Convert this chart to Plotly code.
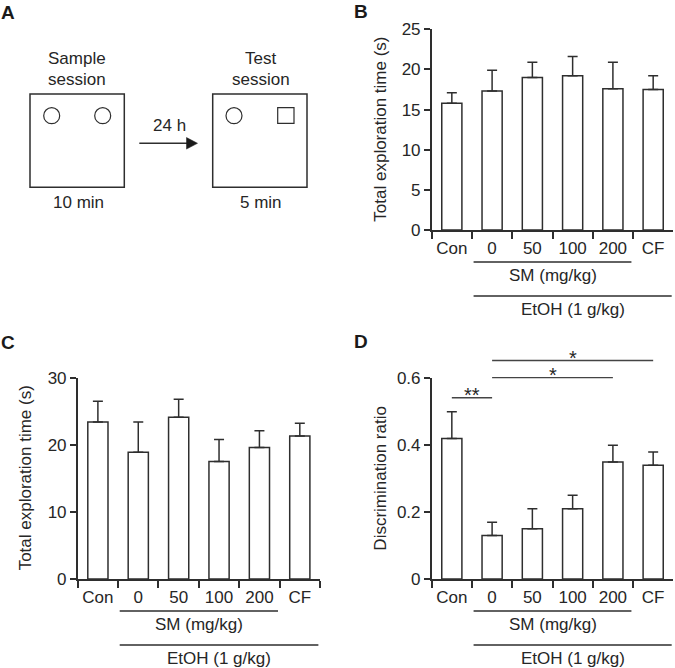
import plotly.graph_objects as go

W, H = 675, 668

# ---------------- data ----------------
categories = ["Con", "0", "50", "100", "200", "CF"]
b_mean = [15.8, 17.3, 19.0, 19.2, 17.6, 17.5]
b_sem = [1.3, 2.6, 1.9, 2.4, 3.3, 1.7]
c_mean = [23.4, 18.9, 24.1, 17.5, 19.6, 21.3]
c_sem = [3.1, 4.5, 2.7, 3.3, 2.5, 1.9]
d_mean = [0.42, 0.13, 0.15, 0.21, 0.35, 0.34]
d_sem = [0.08, 0.04, 0.06, 0.04, 0.05, 0.04]
b_ticks = [0, 5, 10, 15, 20, 25]
c_ticks = [0, 10, 20, 30]
d_ticks = [0, 0.2, 0.4, 0.6]
d_tick_text = ["0", "0.2", "0.4", "0.6"]
sig_pairs = [("Con", "0", 0.542, "**"), ("0", "200", 0.602, "*"), ("0", "CF", 0.653, "*")]
group1_label = "SM (mg/kg)"
group2_label = "EtOH (1 g/kg)"
ytitle_bc = "Total exploration time (s)"
ytitle_d = "Discrimination ratio"

FONT = "Liberation Sans, Arial, sans-serif"
TXT = "#262626"
LINE = "#2e2e2e"
FS = 17


def px(x):
    return x / W


def py(y):
    return 1 - y / H


fig = go.Figure()
shapes = []
annotations = []

panels = [
    ("B", "x", "y", (431.7, 673.3), (29.3, 230.0), b_mean, b_sem, [0, 25], b_ticks, None, ytitle_bc, 381),
    ("C", "x2", "y2", (77.7, 320.0), (377.7, 579.0), c_mean, c_sem, [0, 30], c_ticks, None, ytitle_bc, 25),
    ("D", "x3", "y3", (431.7, 673.3), (378.3, 579.0), d_mean, d_sem, [0, 0.6], d_ticks, d_tick_text, ytitle_d, 381),
]

layout_axes = {}
for name, xa, ya, xr, yr, mean, sem, yrange, yticks, yticktext, ytitle, tx in panels:
    fig.add_trace(go.Bar(
        x=categories, y=mean, xaxis=xa, yaxis=ya, width=0.5,
        marker=dict(color="white", line=dict(color=LINE, width=1.5)),
        error_y=dict(type="data", array=sem, arrayminus=[0] * len(sem), symmetric=False,
                     color=LINE, thickness=1.5, width=5),
        showlegend=False, hoverinfo="skip",
    ))
    xkey = "xaxis" + xa[1:]
    ykey = "yaxis" + ya[1:]
    layout_axes[xkey] = dict(
        domain=[px(xr[0]), px(xr[1])], anchor=ya, type="category",
        range=[-0.5, len(categories) - 0.5], tickson="boundaries", tickangle=0,
        ticks="outside", ticklen=7, tickwidth=1.5, tickcolor=LINE, ticklabelstandoff=2,
        showline=True, linecolor=LINE, linewidth=1.5, showgrid=False, zeroline=False,
        tickfont=dict(family=FONT, size=FS, color=TXT), fixedrange=True, automargin=False,
    )
    layout_axes[ykey] = dict(
        domain=[py(yr[1]), py(yr[0])], anchor=xa, range=yrange,
        tickvals=yticks, ticktext=yticktext if yticktext else [str(t) for t in yticks],
        ticks="outside", ticklen=6, tickwidth=1.5, tickcolor=LINE,
        showline=True, linecolor=LINE, linewidth=1.5, showgrid=False, zeroline=False,
        tickfont=dict(family=FONT, size=FS, color=TXT), fixedrange=True, automargin=False,
    )
    n = len(categories)

    def frac(b):
        return (b + 0.5) / n

    base = yr[1]
    for (b0, b1, dy_line, dy_text, label) in [
        (0.54, 4.46, 32, 45.0, group1_label),
        (0.54, 5.46, 66, 79.3, group2_label),
    ]:
        shapes.append(dict(type="line", xref=xa + " domain", yref="paper",
                           x0=frac(b0), x1=frac(b1), y0=py(base + dy_line), y1=py(base + dy_line),
                           line=dict(color=LINE, width=1.3)))
        annotations.append(dict(xref=xa + " domain", yref="paper",
                                x=(frac(b0) + frac(b1)) / 2, y=py(base + dy_text),
                                text=label, showarrow=False, xanchor="center", yanchor="middle",
                                font=dict(family=FONT, size=FS, color=TXT)))
    annotations.append(dict(xref="paper", yref="paper", x=px(tx), y=py((yr[0] + yr[1]) / 2),
                            text=ytitle, textangle=-90, showarrow=False,
                            xanchor="center", yanchor="middle",
                            font=dict(family=FONT, size=FS, color=TXT)))

# significance bars in panel D
idx = {c: i for i, c in enumerate(categories)}
n = len(categories)
for a, b, yv, stars in sig_pairs:
    x0 = (idx[a] + 0.5) / n
    x1 = (idx[b] + 0.5) / n
    yf = yv / 0.6
    shapes.append(dict(type="line", xref="x3 domain", yref="y3 domain",
                       x0=x0, x1=x1, y0=yf, y1=yf, line=dict(color="#444", width=1.4)))
    annotations.append(dict(xref="x3 domain", yref="y3 domain", x=(x0 + x1) / 2, y=yf,
                            text=stars, showarrow=False, xanchor="center", yanchor="bottom",
                            yshift=-10, font=dict(family=FONT, size=20, color=TXT)))

# panel letters
for letter, x, y in [("A", 8, 12), ("B", 361, 11), ("C", 8, 342), ("D", 361, 341)]:
    annotations.append(dict(xref="paper", yref="paper", x=px(x), y=py(y), text="<b>" + letter + "</b>",
                            showarrow=False, xanchor="center", yanchor="middle",
                            font=dict(family=FONT, size=19, color="#1a1a1a")))

# ---------------- panel A diagram ----------------
def rect(x0, y0, x1, y1, w=1.5):
    shapes.append(dict(type="rect", xref="paper", yref="paper",
                       x0=px(x0), x1=px(x1), y0=py(y1), y1=py(y0),
                       line=dict(color=LINE, width=w)))


def circ(cx, cy, r):
    shapes.append(dict(type="circle", xref="paper", yref="paper",
                       x0=px(cx - r), x1=px(cx + r), y0=py(cy + r), y1=py(cy - r),
                       line=dict(color=LINE, width=1.2)))


rect(30, 94, 124.3, 187.3)
rect(212.7, 94, 307, 187.3)
circ(51.7, 115.7, 8.0)
circ(102.7, 115.7, 8.0)
circ(234, 115.7, 8.0)
rect(277.7, 107.7, 294, 123.3, w=1.2)
shapes.append(dict(type="line", xref="paper", yref="paper", x0=px(139.3), x1=px(188), y0=py(143.3), y1=py(143.3),
                   line=dict(color=LINE, width=1.5)))
shapes.append(dict(type="path", xref="paper", yref="paper",
                   path=f"M {px(186.5)} {py(137.5)} L {px(197.5)} {py(143.3)} L {px(186.5)} {py(149.1)} Z",
                   fillcolor="#1a1a1a", line=dict(color="#1a1a1a", width=0.5)))

for text, x, y in [("Sample", 77.3, 58.5), ("session", 77.3, 79.5), ("Test", 260.7, 58.5),
                   ("session", 260.7, 79.5), ("10 min", 78.3, 202.5), ("5 min", 260.7, 202.5),
                   ("24 h", 169.3, 125)]:
    annotations.append(dict(xref="paper", yref="paper", x=px(x), y=py(y), text=text,
                            showarrow=False, xanchor="center", yanchor="middle",
                            font=dict(family=FONT, size=FS, color=TXT)))

fig.update_layout(
    width=W, height=H, margin=dict(l=0, r=0, t=0, b=0, autoexpand=False),
    paper_bgcolor="white", plot_bgcolor="white", showlegend=False,
    shapes=shapes, annotations=annotations, **layout_axes,
)

fig.write_html(
    "out.html",
    config={"displayModeBar": False},
    post_script="document.documentElement.style.margin='0';document.body.style.margin='0';document.body.style.padding='0';",
)
